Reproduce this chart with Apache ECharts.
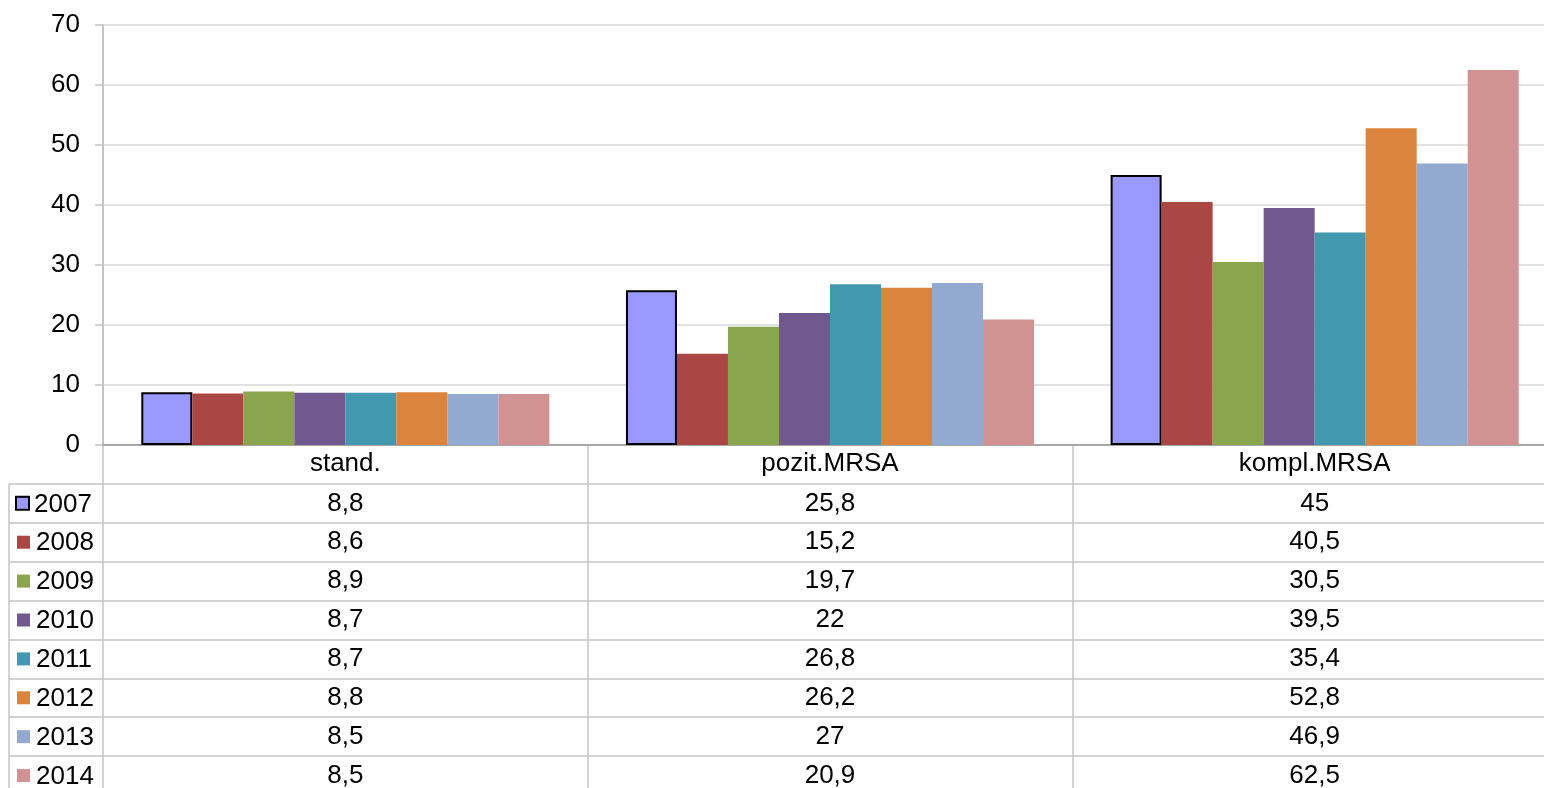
<!DOCTYPE html>
<html>
<head>
<meta charset="utf-8">
<script src="https://cdn.jsdelivr.net/npm/echarts@6/dist/echarts.min.js"></script>
<style>
    html, body { margin: 0; padding: 0; background: #fff; }
    #chart { width: 1544px; height: 788px; }
</style>
</head>
<body>
<div id="chart"></div>
<script>
// 分类
const categories = ['stand.', 'pozit.MRSA', 'kompl.MRSA'];
// 年份
const years = ['2007', '2008', '2009', '2010', '2011', '2012', '2013', '2014'];
// 各年份数据
const y2007 = [8.8, 25.8, 45];
const y2008 = [8.6, 15.2, 40.5];
const y2009 = [8.9, 19.7, 30.5];
const y2010 = [8.7, 22, 39.5];
const y2011 = [8.7, 26.8, 35.4];
const y2012 = [8.8, 26.2, 52.8];
const y2013 = [8.5, 27, 46.9];
const y2014 = [8.5, 20.9, 62.5];
// y轴刻度
const yMin = 0;
const yMax = 70;
const yStep = 10;

const yearData = [y2007, y2008, y2009, y2010, y2011, y2012, y2013, y2014];
const colors = ['#9999ff', '#aa4643', '#89a54e', '#71588f', '#4198af', '#db843d', '#93a9cf', '#d19392'];
const fontFamily = '"Liberation Sans", Arial, sans-serif';
const fontSize = 26;
const lineGray = '#c4c4c4';

// 数值格式: 逗号小数点
function fmt(v) {
    return String(v).replace('.', ',');
}

let myChart = echarts.init(document.getElementById('chart'));

// 柱状图系列
let series = yearData.map(function (arr, i) {
    return {
        name: years[i],
        type: 'bar',
        xAxisIndex: 0,
        yAxisIndex: 0,
        barGap: '0%',
        barCategoryGap: '15.8%',
        itemStyle: {
            color: colors[i],
            borderColor: i === 0 ? '#000' : colors[i],
            borderWidth: i === 0 ? 2 : 0
        },
        data: arr
    };
});

// 数据表单元格
let tableData = [];
yearData.forEach(function (arr, i) {
    arr.forEach(function (v, j) {
        tableData.push([j, i + 1, v]);
    });
});
series.push({
    type: 'custom',
    xAxisIndex: 1,
    yAxisIndex: 1,
    silent: true,
    renderItem: function (params, api) {
        const pt = api.coord([api.value(0), api.value(1)]);
        return {
            type: 'text',
            x: pt[0],
            y: pt[1],
            style: {
                text: fmt(api.value(2)),
                fill: '#000',
                fontSize: fontSize,
                fontFamily: fontFamily,
                align: 'center',
                verticalAlign: 'middle'
            }
        };
    },
    data: tableData
});

// 图例方块 (表格左列)
let rich = {
    t: { fontSize: fontSize, fontFamily: fontFamily, color: '#000', padding: [2, 0, 0, 6] }
};
colors.forEach(function (c, i) {
    rich['k' + i] = i === 0
        ? { width: 11, height: 11, backgroundColor: c, borderColor: '#000', borderWidth: 2 }
        : { width: 13, height: 13, backgroundColor: c };
});

let option = {
    animation: false,
    grid: [
        { left: 103, top: 25, width: 1454, height: 420, outerBoundsMode: 'none' },   // 柱状图
        { left: 103, top: 445, width: 1454, height: 350, outerBoundsMode: 'none' }   // 数据表
    ],
    xAxis: [{
        type: 'category',
        gridIndex: 0,
        data: categories,
        axisLine: { lineStyle: { color: '#a6a6a6', width: 2 } },
        axisTick: { show: false },
        axisLabel: { interval: 0, margin: 6, fontSize: fontSize, fontFamily: fontFamily, color: '#000' }
    }, {
        type: 'category',
        gridIndex: 1,
        data: categories,
        axisLine: { show: false },
        axisTick: { show: false },
        axisLabel: { show: false },
        splitLine: { show: true, interval: 0, lineStyle: { color: lineGray, width: 1.5 } }
    }],
    yAxis: [{
        type: 'value',
        gridIndex: 0,
        min: yMin,
        max: yMax,
        interval: yStep,
        axisLine: { show: true, lineStyle: { color: lineGray, width: 2 } },
        axisTick: { show: true, length: 8, lineStyle: { color: lineGray, width: 1.5 } },
        axisLabel: { margin: 23, fontSize: fontSize, fontFamily: fontFamily, color: '#000' },
        splitLine: { lineStyle: { color: '#d9d9d9', width: 1.5 } }
    }, {
        type: 'category',
        gridIndex: 1,
        inverse: true,
        data: [''].concat(years),
        axisLine: { show: false },
        axisTick: {
            show: true,
            length: 94,
            interval: function (idx) { return idx !== 0; },
            lineStyle: { color: lineGray, width: 1.5 }
        },
        axisLabel: {
            interval: 0,
            align: 'left',
            margin: 86,
            rich: rich,
            formatter: function (val) {
                if (!val) return '';
                return '{k' + years.indexOf(val) + '|}{t|' + val + '}';
            }
        },
        splitLine: { show: true, interval: 0, lineStyle: { color: lineGray, width: 1.5 } }
    }],
    series: series
};

myChart.setOption(option);

// 表格左边框 (从表头下方开始)
const rowTop = myChart.convertToPixel({ yAxisIndex: 1 }, '2007');
const rowH = myChart.convertToPixel({ yAxisIndex: 1 }, '2008') - rowTop;
const leftX = myChart.convertToPixel({ xAxisIndex: 1 }, categories[0]);
const colW = myChart.convertToPixel({ xAxisIndex: 1 }, categories[1]) - leftX;
myChart.setOption({
    graphic: [{
        type: 'line',
        silent: true,
        shape: { x1: leftX - colW / 2 - 94, y1: rowTop - rowH / 2, x2: leftX - colW / 2 - 94, y2: 800 },
        style: { stroke: lineGray, lineWidth: 1.5 }
    }]
});
</script>
</body>
</html>
